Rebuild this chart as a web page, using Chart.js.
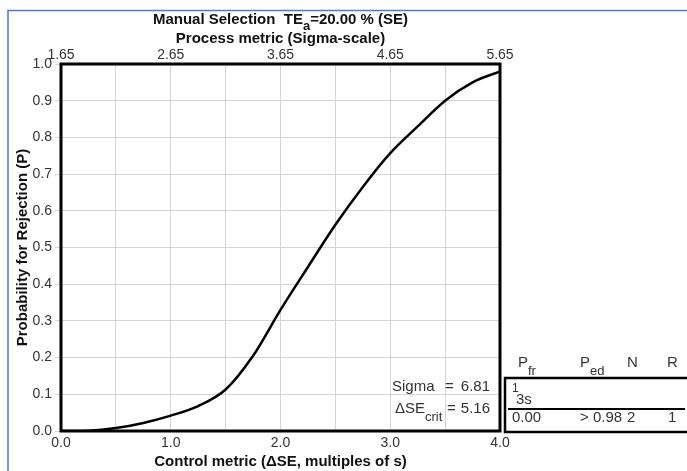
<!DOCTYPE html>
<html>
<head>
<meta charset="utf-8">
<script src="https://cdn.jsdelivr.net/npm/chart.js@4"></script>
<style>
  html, body { margin: 0; padding: 0; background: #fff; }
</style>
</head>
<body>
<canvas id="opspecs" width="687" height="471"></canvas>
<script>
// power curve
const deltaSE = [0, 0.25, 0.5, 0.75, 1.0, 1.25, 1.5, 1.75, 2.0, 2.25, 2.5, 2.75, 3.0, 3.25, 3.5, 3.75, 4.0];
const pReject = [0.000, 0.001, 0.008, 0.022, 0.042, 0.068, 0.113, 0.205, 0.330, 0.447, 0.562, 0.665, 0.757, 0.830, 0.900, 0.950, 0.980];
const sigmaTicks = [1.65, 2.65, 3.65, 4.65, 5.65];
const sigmaValue = "6.81";
const seCrit = "5.16";
const tableHead = [["P", "fr"], ["P", "ed"], ["N", ""], ["R", ""]];
const tableRow = ["0.00", "> 0.98", "2", "1"];

const FONT = "'Liberation Sans', Arial, sans-serif";
const TXT = "#333";

function drawParts(ctx, x, y, parts, size, bold, drop) {
  let cx = x;
  parts.forEach((p) => {
    const s = p.sub ? size - 2 : size;
    ctx.font = (bold ? "bold " : "") + s + "px " + FONT;
    ctx.fillText(p.t, cx, y + (p.sub ? drop : 0));
    cx += ctx.measureText(p.t).width;
  });
  return cx - x;
}

function partsWidth(ctx, parts, size, bold) {
  let w = 0;
  parts.forEach((p) => {
    const s = p.sub ? size - 2 : size;
    ctx.font = (bold ? "bold " : "") + s + "px " + FONT;
    w += ctx.measureText(p.t).width;
  });
  return w;
}

const decor = {
  id: "decor",
  beforeDraw(chart) {
    const ctx = chart.ctx;
    ctx.save();
    ctx.fillStyle = "#fff";
    ctx.fillRect(0, 0, chart.width, chart.height);
    ctx.strokeStyle = "#4a7bd0";
    ctx.lineWidth = 1.5;
    ctx.beginPath();
    ctx.moveTo(8, chart.height);
    ctx.lineTo(8, 10.5);
    ctx.lineTo(chart.width, 10.5);
    ctx.stroke();
    ctx.restore();
  },
  afterDraw(chart) {
    const ctx = chart.ctx;
    const ca = chart.chartArea;
    ctx.save();
    // plot frame
    ctx.strokeStyle = "#000";
    ctx.lineWidth = 3;
    ctx.strokeRect(ca.left, ca.top, ca.right - ca.left, ca.bottom - ca.top);

    // main title
    ctx.fillStyle = "#111";
    ctx.textBaseline = "middle";
    ctx.textAlign = "left";
    const title = [{ t: "Manual Selection  TE" }, { t: "a", sub: true }, { t: "=20.00 % (SE)" }];
    const tw = partsWidth(ctx, title, 15, true);
    drawParts(ctx, (ca.left + ca.right) / 2 - tw / 2, 20, title, 15, true, 6);

    // sigma text
    ctx.fillStyle = TXT;
    ctx.font = "15px " + FONT;
    ctx.fillText("Sigma", 392, 387);
    ctx.fillText("=", 445, 387);
    ctx.textAlign = "right";
    ctx.fillText(sigmaValue, 490, 387);
    ctx.textAlign = "left";
    drawParts(ctx, 395, 409, [{ t: "\u0394SE" }, { t: "crit", sub: true }], 15, false, 8);
    ctx.font = "15px " + FONT;
    ctx.fillText("=", 447, 409);
    ctx.textAlign = "right";
    ctx.fillText(seCrit, 490, 409);
    ctx.textAlign = "left";

    // rule table
    const cols = [518, 580, 627, 667];
    tableHead.forEach((h, i) => {
      drawParts(ctx, cols[i], 363, [{ t: h[0] }, { t: h[1], sub: true }], 15, false, 8);
    });
    ctx.strokeStyle = "#000";
    ctx.lineWidth = 2.5;
    ctx.strokeRect(505, 378, 200, 54);
    ctx.lineWidth = 2;
    ctx.beginPath();
    ctx.moveTo(508, 409);
    ctx.lineTo(685, 409);
    ctx.stroke();
    ctx.font = "12px " + FONT;
    ctx.fillText("1", 512, 389);
    ctx.font = "15px " + FONT;
    ctx.fillText("3s", 516, 400);
    const rowX = [512, 580, 627, 668];
    tableRow.forEach((v, i) => ctx.fillText(v, rowX[i], 418));
    ctx.restore();
  },
};

function makeOpspecs() {
  const ctx = document.getElementById("opspecs").getContext("2d");
  new Chart(ctx, {
    type: "line",
    data: {
      datasets: [
        {
          label: "1_3s N=2",
          data: deltaSE.map((x, i) => ({ x: x, y: pReject[i] })),
          borderColor: "#000",
          borderWidth: 2.5,
          pointRadius: 0,
          cubicInterpolationMode: "monotone",
          fill: false,
        },
      ],
    },
    options: {
      responsive: false,
      animation: false,
      layout: { padding: { left: 10, right: 187, top: 0, bottom: 0 } },
      plugins: {
        legend: { display: false },
        tooltip: { enabled: false },
      },
      scales: {
        x: {
          type: "linear",
          position: "bottom",
          min: 0,
          max: 4,
          afterFit: (s) => { s.height = 40; },
          ticks: {
            stepSize: 0.5,
            autoSkip: false,
            maxRotation: 0,
            padding: 4,
            color: TXT,
            font: { family: FONT, size: 14 },
            callback: (v) => (Number.isInteger(v) ? v.toFixed(1) : ""),
          },
          grid: { color: "#d4d4d4", drawTicks: false },
          border: { display: false },
          title: {
            display: true,
            text: "Control metric (\u0394SE, multiples of s)",
            color: "#111",
            font: { family: FONT, size: 15, weight: "bold" },
            padding: { top: 0, bottom: 0 },
          },
        },
        x2: {
          type: "linear",
          position: "top",
          min: 1.65,
          max: 5.65,
          afterFit: (s) => { s.height = 64; },
          afterBuildTicks: (s) => { s.ticks = sigmaTicks.map((v) => ({ value: v })); },
          ticks: {
            autoSkip: false,
            maxRotation: 0,
            padding: -8,
            color: TXT,
            font: { family: FONT, size: 14 },
            callback: (v) => v.toFixed(2),
          },
          grid: { display: false },
          border: { display: false },
          title: {
            display: true,
            text: "Process metric (Sigma-scale)",
            color: "#111",
            font: { family: FONT, size: 15, weight: "bold" },
            padding: { top: 30, bottom: 0 },
          },
        },
        y: {
          min: 0,
          max: 1,
          afterFit: (s) => { s.width = 51; },
          ticks: {
            stepSize: 0.1,
            padding: 3,
            color: TXT,
            font: { family: FONT, size: 14 },
            callback: (v) => v.toFixed(1),
          },
          grid: { color: "#d4d4d4", tickLength: 6 },
          border: { display: false },
          title: {
            display: true,
            text: "Probability for Rejection (P)",
            color: "#111",
            font: { family: FONT, size: 15, weight: "bold" },
            padding: { top: 4, bottom: 0 },
          },
        },
      },
    },
    plugins: [decor],
  });
}
makeOpspecs();
</script>
</body>
</html>
